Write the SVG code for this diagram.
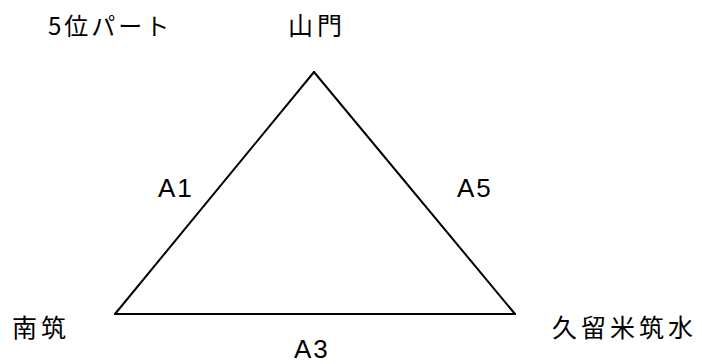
<svg xmlns="http://www.w3.org/2000/svg" width="702" height="364" viewBox="0 0 702 364">
<style>
text{font-family:"Noto Sans CJK JP","Liberation Sans",sans-serif;font-size:25px;fill:#000;letter-spacing:4px}
text.l{font-family:"Liberation Sans","Noto Sans CJK JP",sans-serif;font-size:26px;letter-spacing:2px}
.e{stroke:#000;stroke-width:2;fill:none;stroke-linecap:round;stroke-linejoin:round}
</style>
<rect width="702" height="364" fill="#fff"/>
<g id="connectors">
<line class="e" x1="314" y1="72" x2="115" y2="314"/>
<line class="e" x1="314" y1="72" x2="515" y2="314"/>
<line class="e" x1="115" y1="314" x2="515" y2="314"/>
</g>
<g id="title"><text x="48" y="35" style="font-size:24px;letter-spacing:3px">5位パート</text></g>
<g id="yamato"><text x="288" y="35">山門</text></g>
<g id="nanchiku"><text x="12" y="337">南筑</text></g>
<g id="kurume"><text x="552" y="337">久留米筑水</text></g>
<g id="a1"><text class="l" x="158" y="197">A1</text></g>
<g id="a5"><text class="l" x="457" y="197">A5</text></g>
<g id="a3"><text class="l" x="294" y="358">A3</text></g>
</svg>
